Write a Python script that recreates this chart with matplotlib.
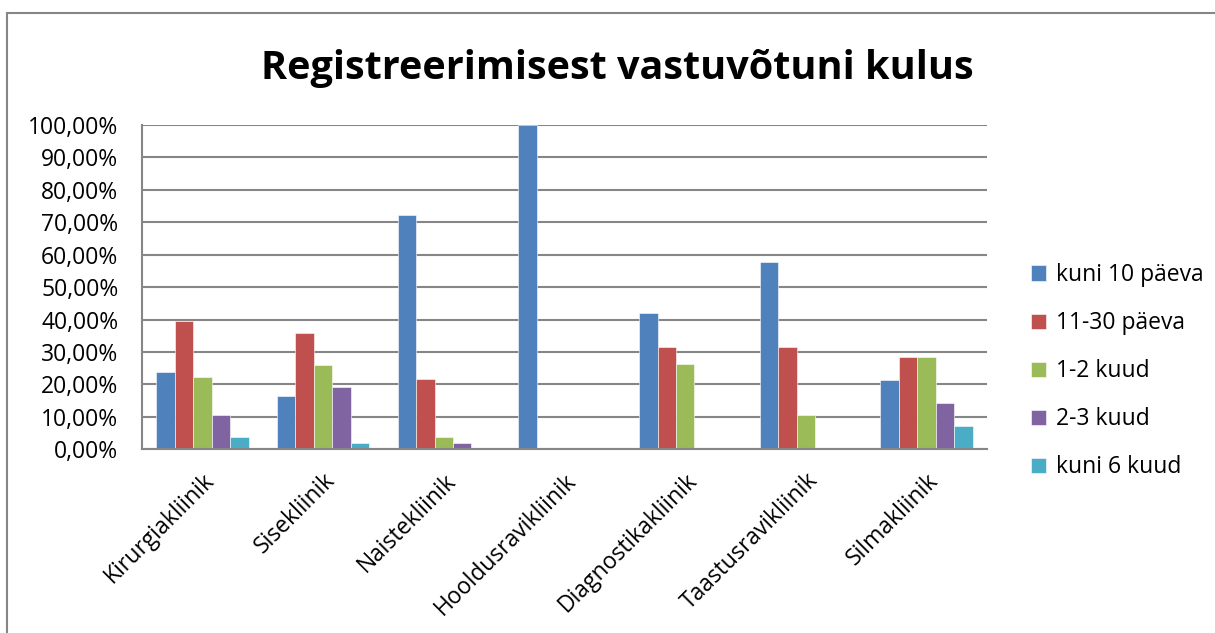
import numpy as np
import matplotlib
matplotlib.use("Agg")
from matplotlib import pyplot as plt
from matplotlib.patches import Rectangle

plt.rcParams['font.family'] = ['Open Sans', 'DejaVu Sans']

categories = ['Kirurgiakliinik', 'Sisekliinik', 'Naistekliinik', 'Hooldusravikliinik',
              'Diagnostikakliinik', 'Taastusravikliinik', 'Silmakliinik']
series_names = ['kuni 10 päeva', '11-30 päeva', '1-2 kuud', '2-3 kuud', 'kuni 6 kuud']
kuni_10_paeva = [23.7, 16.5, 72.2, 100.0, 42.1, 57.9, 21.4]
p11_30_paeva = [39.5, 35.9, 21.8, 0.0, 31.6, 31.6, 28.6]
kuud_1_2 = [22.4, 25.9, 3.8, 0.0, 26.3, 10.5, 28.6]
kuud_2_3 = [10.5, 19.2, 1.9, 0.0, 0.0, 0.0, 14.3]
kuni_6_kuud = [3.9, 1.9, 0.0, 0.0, 0.0, 0.0, 7.1]
colors = ['#4F81BD', '#C0504D', '#9BBB59', '#8064A2', '#4BACC6']

values = [kuni_10_paeva, p11_30_paeva, kuud_1_2, kuud_2_3, kuni_6_kuud]

fig = plt.figure(figsize=(12.15, 6.33), dpi=100)
# outer chart border (cut off on right/bottom like the screenshot)
fig.patches.append(Rectangle((7/1215, -0.05), 1.2, 1 - 13/633 + 0.05, transform=fig.transFigure,
                             fill=False, edgecolor='#868686', lw=1.5))

ax = fig.add_axes([142/1215, 1 - 449.3/633, 845/1215, 324.3/633])
x = np.arange(len(categories))
w = 0.153
for i, (vals, name, c) in enumerate(zip(values, series_names, colors)):
    ax.bar(x + (i - 2) * w, np.array(vals) / 100, w, color=c, label=name,
           edgecolor='white', linewidth=0.4, zorder=3)

ax.set_xlim(-0.5, len(categories) - 0.5)
ax.set_ylim(0, 1)
ax.set_yticks(np.arange(0, 1.01, 0.1))
ax.set_yticklabels([('%.2f%%' % (v * 10)).replace('.', ',') for v in range(11)], fontsize=16.5)
ax.set_xticks(x)
ax.set_xticklabels(categories, rotation=45, ha='right', rotation_mode='anchor', fontsize=16.5)
ax.tick_params(length=0)
ax.tick_params(axis='y', pad=17)
ax.tick_params(axis='x', pad=14)
ax.grid(axis='y', color='#868686', lw=1.5, zorder=0)
for s in ['top', 'right']:
    ax.spines[s].set_visible(False)
for s in ['left', 'bottom']:
    ax.spines[s].set_color('#868686')
    ax.spines[s].set_linewidth(1.5)
    ax.spines[s].set_zorder(4)

fig.text(617/1215, 1 - 69/633, 'Registreerimisest vastuvõtuni kulus', ha='center', va='center',
         fontsize=28.5, fontweight='bold')

fig.legend(loc='upper left', bbox_to_anchor=(1022/1215, 1 - 254/633), frameon=False,
           fontsize=16.5, handlelength=0.65, handleheight=0.65, handletextpad=0.45,
           labelspacing=1.05, borderaxespad=0)

plt.savefig('out.png', dpi=100)
